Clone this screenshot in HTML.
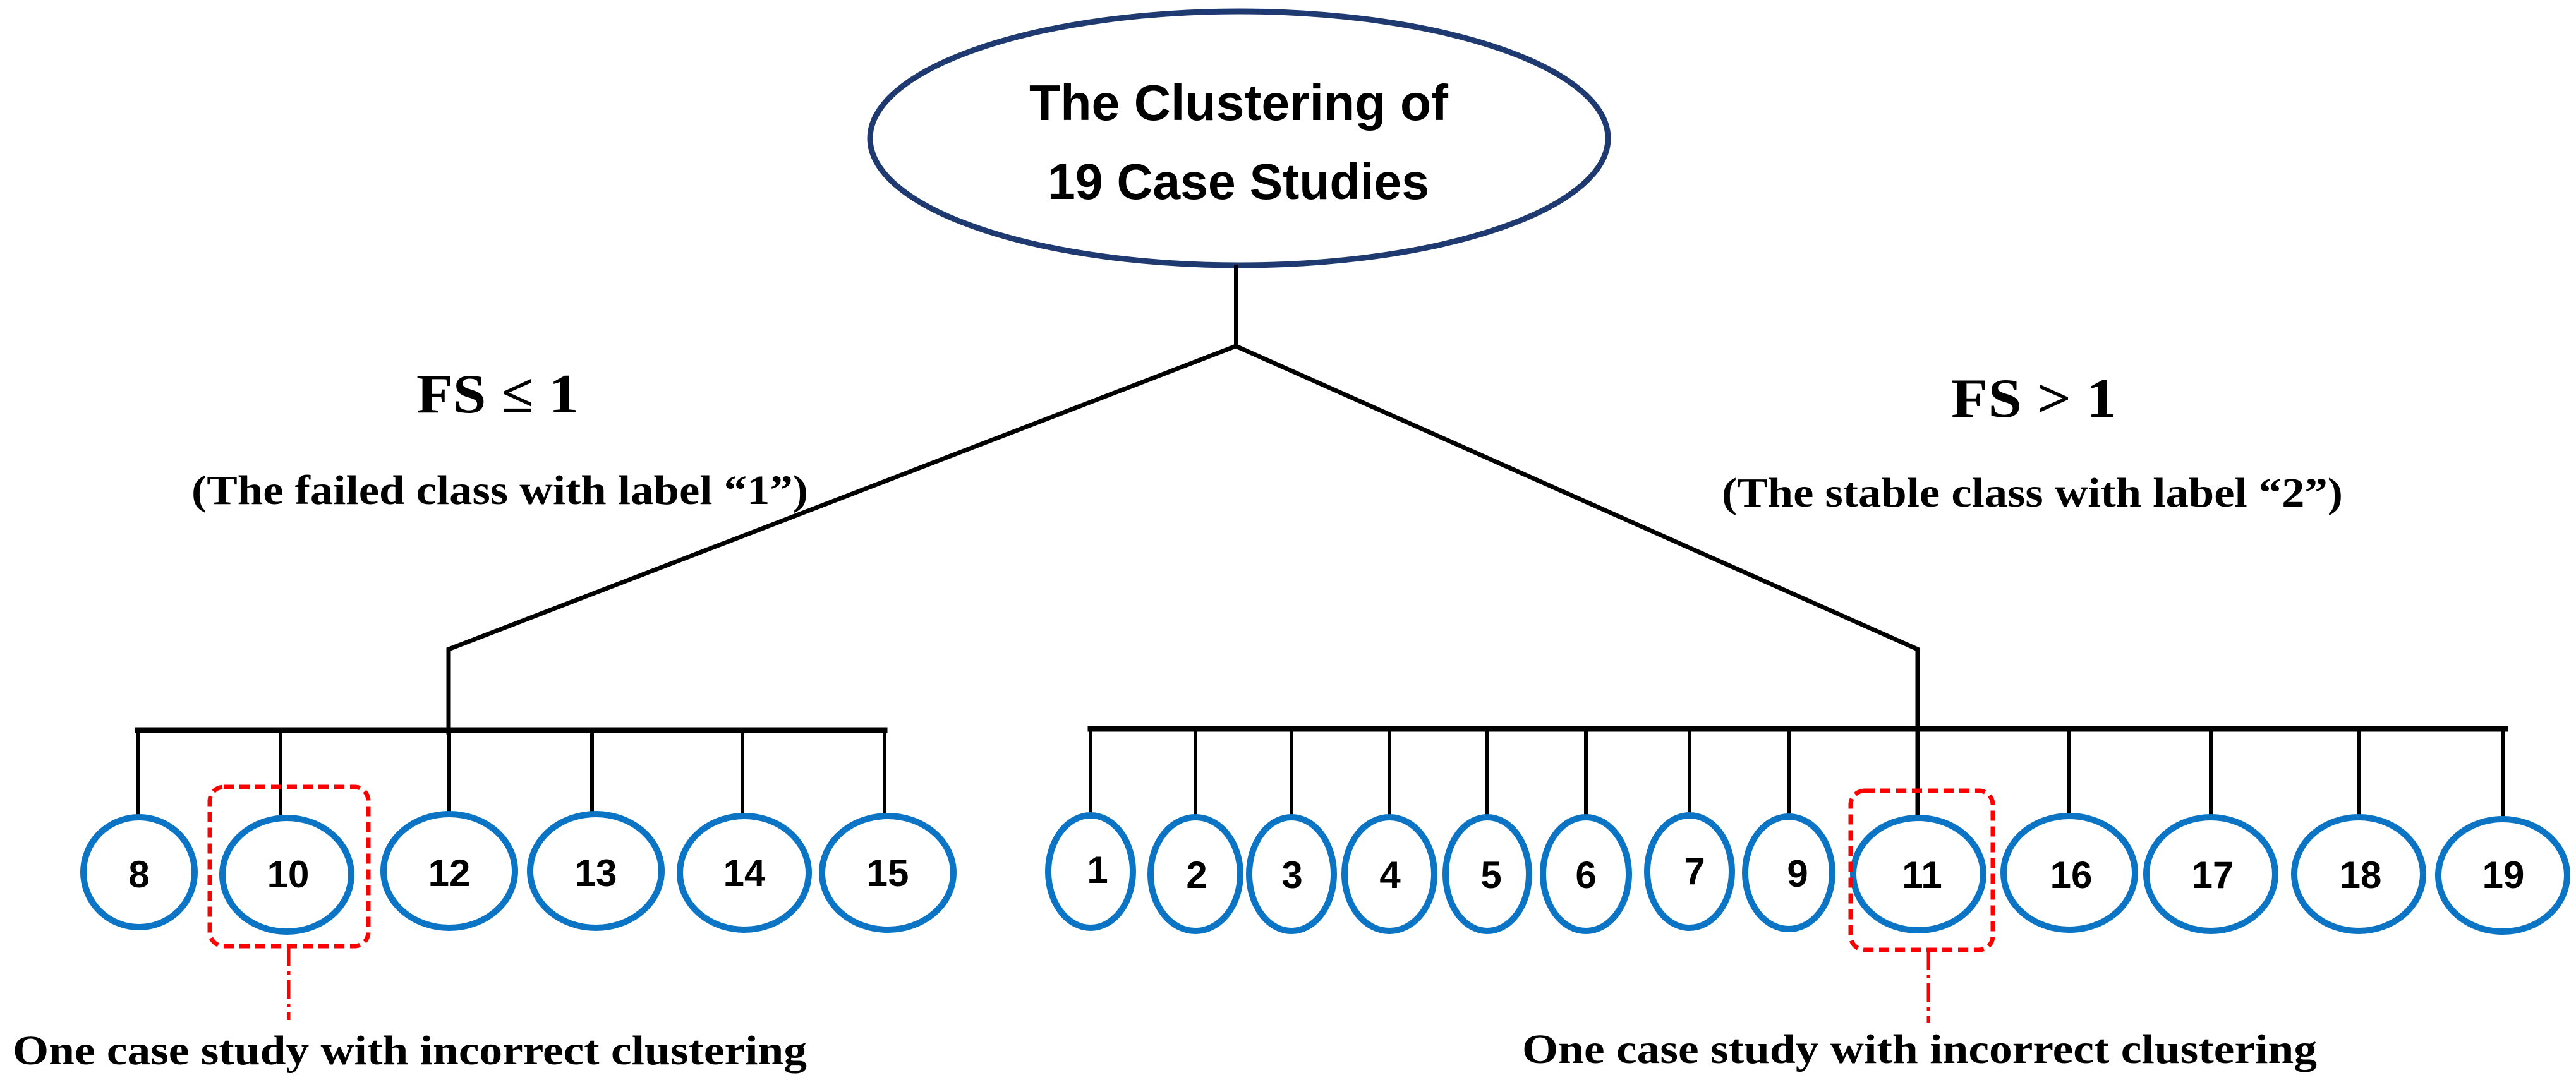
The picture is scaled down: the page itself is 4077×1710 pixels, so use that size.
<!DOCTYPE html>
<html><head><meta charset="utf-8"><style>html,body{margin:0;padding:0;background:#fff}svg{display:block}</style></head>
<body>
<svg width="4077" height="1710" viewBox="0 0 4077 1710" xmlns="http://www.w3.org/2000/svg">
<rect width="4077" height="1710" fill="#fff"/>
<!-- root -->
<ellipse cx="1961" cy="219" rx="584" ry="201" fill="#fff" stroke="#1F3A70" stroke-width="9"/>
<g font-family="'Liberation Sans',sans-serif" font-weight="bold" font-size="80" fill="#000">
<text x="1629" y="190" textLength="663" lengthAdjust="spacingAndGlyphs">The Clustering of</text>
<text x="1658" y="315" textLength="604" lengthAdjust="spacingAndGlyphs">19 Case Studies</text>
</g>
<g stroke="#000" fill="none" stroke-linecap="square">
<line x1="1956" y1="422" x2="1956" y2="548" stroke-width="6"/>
<polyline points="710,1160 710,1028 1956,548 3035,1028 3035,1295" stroke-width="7" stroke-linejoin="miter"/>
<line x1="218" y1="1156" x2="1400" y2="1156" stroke-width="9"/>
<line x1="1726" y1="1154" x2="3965" y2="1154" stroke-width="9"/>
</g>
<g stroke="#000" stroke-width="6">
<line x1="218" y1="1156" x2="218" y2="1293"/>
<line x1="444" y1="1156" x2="444" y2="1293"/>
<line x1="711" y1="1156" x2="711" y2="1288"/>
<line x1="937" y1="1156" x2="937" y2="1288"/>
<line x1="1175" y1="1156" x2="1175" y2="1290"/>
<line x1="1400" y1="1156" x2="1400" y2="1290"/>
<line x1="1726" y1="1154" x2="1726" y2="1290"/>
<line x1="1892" y1="1154" x2="1892" y2="1293"/>
<line x1="2044" y1="1154" x2="2044" y2="1293"/>
<line x1="2199" y1="1154" x2="2199" y2="1293"/>
<line x1="2354" y1="1154" x2="2354" y2="1293"/>
<line x1="2510" y1="1154" x2="2510" y2="1293"/>
<line x1="2674" y1="1154" x2="2674" y2="1290"/>
<line x1="2831" y1="1154" x2="2831" y2="1292"/>
<line x1="3275" y1="1154" x2="3275" y2="1292"/>
<line x1="3499" y1="1154" x2="3499" y2="1293"/>
<line x1="3733" y1="1154" x2="3733" y2="1293"/>
<line x1="3961" y1="1154" x2="3961" y2="1298"/>
</g>
<!-- nodes -->
<g fill="#fff" stroke="#0B74C4" stroke-width="10">
<ellipse cx="220" cy="1381" rx="88" ry="87"/>
<ellipse cx="454" cy="1385" rx="102" ry="90"/>
<ellipse cx="711" cy="1379" rx="104" ry="90"/>
<ellipse cx="943" cy="1379" rx="104" ry="90"/>
<ellipse cx="1178" cy="1382" rx="102" ry="90"/>
<ellipse cx="1405" cy="1382" rx="104" ry="90"/>
<ellipse cx="1726" cy="1380" rx="67" ry="89"/>
<ellipse cx="1892" cy="1384" rx="71" ry="90"/>
<ellipse cx="2044" cy="1384" rx="67" ry="90"/>
<ellipse cx="2199" cy="1384" rx="71" ry="90"/>
<ellipse cx="2354" cy="1384" rx="66" ry="90"/>
<ellipse cx="2510" cy="1384" rx="68" ry="90"/>
<ellipse cx="2674" cy="1380" rx="67" ry="89"/>
<ellipse cx="2831" cy="1382" rx="69" ry="89"/>
<ellipse cx="3036" cy="1384" rx="103" ry="89"/>
<ellipse cx="3275" cy="1382" rx="104" ry="90"/>
<ellipse cx="3499" cy="1384" rx="102" ry="90"/>
<ellipse cx="3733" cy="1384" rx="102" ry="90"/>
<ellipse cx="3961" cy="1386" rx="102" ry="89"/>
</g>
<g font-family="'Liberation Sans',sans-serif" font-weight="bold" font-size="60" fill="#000" text-anchor="middle">
<text x="220" y="1405">8</text>
<text x="456" y="1405">10</text>
<text x="711" y="1403">12</text>
<text x="943" y="1403">13</text>
<text x="1178" y="1403">14</text>
<text x="1405" y="1403">15</text>
<text x="1737" y="1398">1</text>
<text x="1894" y="1406">2</text>
<text x="2045" y="1406">3</text>
<text x="2200" y="1406">4</text>
<text x="2360" y="1406">5</text>
<text x="2510" y="1406">6</text>
<text x="2682" y="1400">7</text>
<text x="2845" y="1404">9</text>
<text x="3042" y="1406">11</text>
<text x="3278" y="1406">16</text>
<text x="3502" y="1406">17</text>
<text x="3736" y="1406">18</text>
<text x="3962" y="1406">19</text>
</g>
<!-- red markers -->
<g fill="none" stroke="#FF0000">
<rect x="332" y="1246" width="251" height="252" rx="22" stroke-width="7" stroke-dasharray="16,9"/>
<rect x="2929" y="1252" width="225" height="252" rx="22" stroke-width="7" stroke-dasharray="16,9"/>
<line x1="457" y1="1500" x2="457" y2="1615" stroke-width="5" stroke-dasharray="30,8,5,8"/>
<line x1="3052" y1="1506" x2="3052" y2="1619" stroke-width="5" stroke-dasharray="30,8,5,8"/>
</g>
<!-- labels -->
<g font-family="'Liberation Serif',serif" font-weight="bold" fill="#000">
<text x="659" y="653" font-size="88" textLength="257" lengthAdjust="spacingAndGlyphs">FS ≤ 1</text>
<text x="3088" y="660" font-size="88" textLength="262" lengthAdjust="spacingAndGlyphs">FS &gt; 1</text>
<text x="303" y="798" font-size="66" textLength="976" lengthAdjust="spacingAndGlyphs">(The failed class with label “1”)</text>
<text x="2725" y="802" font-size="66" textLength="983" lengthAdjust="spacingAndGlyphs">(The stable class with label “2”)</text>
<text x="20" y="1685" font-size="66" textLength="1257" lengthAdjust="spacingAndGlyphs">One case study with incorrect clustering</text>
<text x="2409" y="1683" font-size="66" textLength="1258" lengthAdjust="spacingAndGlyphs">One case study with incorrect clustering</text>
</g>
</svg>
</body></html>
